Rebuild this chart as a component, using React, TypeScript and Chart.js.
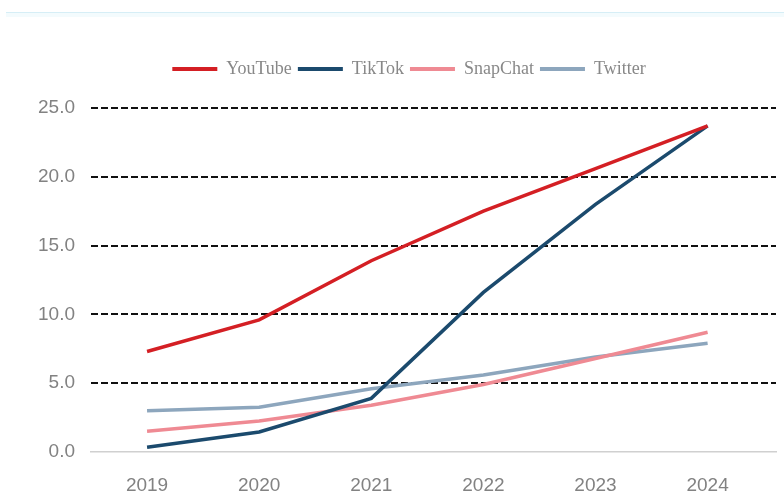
import React, { useEffect, useRef } from "react";
import { Chart, registerables } from "chart.js";

Chart.register(...registerables);

const years = [2019, 2020, 2021, 2022, 2023, 2024];
const youtube = [7.3, 9.6, 13.9, 17.5, 20.6, 23.7];
const tiktok = [0.35, 1.45, 3.9, 11.6, 18.0, 23.7];
const snapchat = [1.5, 2.25, 3.4, 4.9, 6.8, 8.7];
const twitter = [3.0, 3.25, 4.6, 5.6, 6.9, 7.9];
const seriesNames = ["YouTube", "TikTok", "SnapChat", "Twitter"];
const seriesColors = ["#d41f24", "#1b4a6d", "#ef8a93", "#8da6bd"];
const seriesValues = [youtube, tiktok, snapchat, twitter];

const legendAdjust = {
  id: "legendAdjust",
  beforeInit(chart: any) {
    const lg = chart.legend;
    if (!lg) return;
    const origFit = lg.fit;
    lg.fit = function () {
      origFit.call(this);
      this.height += 20;
    };
    const origDraw = lg.draw;
    lg.draw = function () {
      const ctx = chart.ctx;
      ctx.save();
      ctx.translate(21, 0);
      origDraw.call(this);
      ctx.restore();
    };
  },
};

export default function App() {
  const ref = useRef<HTMLCanvasElement | null>(null);
  useEffect(() => {
    if (!ref.current) return;
    const chart = new Chart(ref.current, {
      type: "line",
      data: {
        datasets: seriesNames.map((name, i) => ({
          label: name,
          data: years.map((y, j) => ({ x: y, y: seriesValues[i][j] })),
          borderColor: seriesColors[i],
          backgroundColor: seriesColors[i],
          borderWidth: 3.5,
          pointRadius: 0,
          tension: 0,
        })),
      },
      plugins: [legendAdjust],
      options: {
        responsive: false,
        animation: false,
        layout: { padding: { top: 54, right: 8, bottom: 0, left: 0 } },
        plugins: {
          tooltip: { enabled: false },
          legend: {
            display: true,
            position: "top",
            labels: {
              font: { family: "Liberation Serif", size: 18 },
              color: "#888888",
              boxWidth: 45,
              boxHeight: 4,
              padding: 6,
              generateLabels: (c: any) =>
                c.data.datasets.map((d: any, i: number) => ({
                  text: d.label,
                  fillStyle: d.borderColor,
                  strokeStyle: d.borderColor,
                  lineWidth: 0,
                  hidden: false,
                  datasetIndex: i,
                  fontColor: "#888888",
                })),
            },
          },
        },
        scales: {
          x: {
            type: "linear",
            min: 2018.5,
            max: 2024.61,
            afterFit: (s: any) => {
              s.height = 44;
            },
            afterBuildTicks: (s: any) => {
              s.ticks = years.map((y) => ({ value: y }));
            },
            ticks: {
              callback: (v: any) => String(v),
              font: { family: "Liberation Sans", size: 19 },
              color: "#828282",
              padding: 14,
              maxRotation: 0,
            },
            grid: { display: false },
            border: { display: true, color: "#d0d0d0", width: 1.5 },
          },
          y: {
            min: 0,
            max: 25,
            afterFit: (s: any) => {
              s.width = 91;
            },
            ticks: {
              stepSize: 5,
              callback: (v: any) => Number(v).toFixed(1),
              font: { family: "Liberation Sans", size: 19 },
              color: "#828282",
              padding: 16,
            },
            grid: {
              drawTicks: false,
              color: (ctx: any) => (ctx.tick && ctx.tick.value === 0 ? "rgba(0,0,0,0)" : "#111"),
              lineWidth: 2,
            },
            border: { display: false, dash: [7, 3] },
          },
        },
      },
    });
    return () => chart.destroy();
  }, []);
  return (
    <div style={{ position: "fixed", left: 0, top: 0, width: 784, height: 496, background: "#fff" }}>
      <div
        style={{
          position: "absolute",
          left: 6,
          right: 0,
          top: 12,
          height: 4,
          borderTop: "1px solid #d6eef6",
          background: "#f3fbfd",
        }}
      />
      <canvas ref={ref} width={784} height={496} style={{ position: "absolute", left: 0, top: 0 }} />
    </div>
  );
}
